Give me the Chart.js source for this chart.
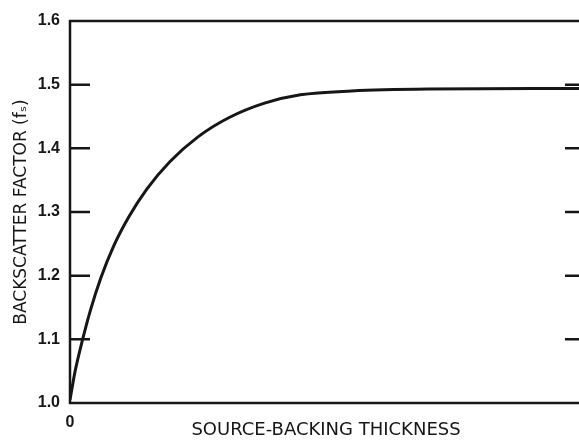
<!DOCTYPE html>
<html>
<head>
<meta charset="utf-8">
<script src="https://cdn.jsdelivr.net/npm/chart.js@4.4.1/dist/chart.umd.min.js"></script>
<style>
  html, body { margin: 0; padding: 0; background: #ffffff; overflow: hidden; }
  #c { display: block; }
</style>
</head>
<body>
<canvas id="c" width="585" height="441"></canvas>
<script>
// ---- data ----
const thickness   = [0, 1.0, 2.5, 4.0, 6.0, 8.5, 11.5, 15.0, 19.5, 25.0, 31.0, 38.0, 45.0, 55.0, 70.0, 100];
const backscatter = [1.005, 1.05, 1.101, 1.146, 1.196, 1.246, 1.2925, 1.336, 1.379, 1.418, 1.448, 1.471, 1.484, 1.490, 1.493, 1.494];
const yTickValues = [1.0, 1.1, 1.2, 1.3, 1.4, 1.5, 1.6];
const xTickLabels = ['0'];
const yTitle = 'BACKSCATTER FACTOR (f\u209B)';
const xTitle = 'SOURCE-BACKING THICKNESS';

const ink = '#161616';

const points = thickness.map((x, i) => ({ x: x, y: backscatter[i] }));

const frameAndTicks = {
  id: 'frameAndTicks',
  afterDatasetsDraw(chart) {
    const { ctx, chartArea: a, scales } = chart;
    const ys = scales.y;
    ctx.save();
    ctx.strokeStyle = ink;
    ctx.lineWidth = 2.5;
    ctx.lineCap = 'butt';
    ctx.strokeRect(a.left, a.top, a.right - a.left, a.bottom - a.top);
    ys.ticks.forEach(t => {
      if (t.value <= 1.0001 || t.value >= 1.5999) return;
      const py = ys.getPixelForValue(t.value);
      ctx.beginPath();
      ctx.moveTo(a.left, py);
      ctx.lineTo(a.left + 20, py);
      ctx.moveTo(a.right - 17, py);
      ctx.lineTo(a.right, py);
      ctx.stroke();
    });
    ctx.restore();
  }
};

new Chart(document.getElementById('c'), {
  type: 'line',
  data: {
    datasets: [{
      data: points,
      borderColor: ink,
      borderWidth: 3,
      pointRadius: 0,
      fill: false,
      cubicInterpolationMode: 'monotone'
    }]
  },
  options: {
    responsive: false,
    animation: false,
    devicePixelRatio: 1,
    layout: { padding: { top: 21, right: 3, left: 0, bottom: 0 } },
    plugins: { legend: { display: false }, tooltip: { enabled: false } },
    scales: {
      x: {
        type: 'linear',
        min: 0, max: 100,
        afterBuildTicks(s) { s.ticks = xTickLabels.map(() => ({ value: 0 })); },
        afterFit(s) { s.height = 38; },
        grid: { display: false, drawTicks: false },
        border: { display: false },
        ticks: {
          padding: 10,
          color: ink,
          font: { family: 'Liberation Sans', size: 16, weight: 'bold' },
          callback: (v, i) => xTickLabels[i]
        },
        title: {
          display: true,
          text: xTitle,
          color: ink,
          font: { family: 'DejaVu Sans', size: 18 },
          padding: { top: 0, bottom: 0 }
        }
      },
      y: {
        type: 'linear',
        min: 1.0, max: 1.6,
        afterBuildTicks(s) { s.ticks = yTickValues.map(v => ({ value: v })); },
        afterFit(s) { s.width = 70; },
        grid: { display: false, drawTicks: false },
        border: { display: false },
        ticks: {
          padding: 10,
          color: ink,
          font: { family: 'Liberation Sans', size: 16, weight: 'bold' },
          callback: v => Number(v).toFixed(1)
        },
        title: {
          display: true,
          text: yTitle,
          color: ink,
          font: { family: 'DejaVu Sans', size: 17 },
          padding: { top: 11, bottom: 0 }
        }
      }
    }
  },
  plugins: [frameAndTicks]
});
</script>
</body>
</html>
